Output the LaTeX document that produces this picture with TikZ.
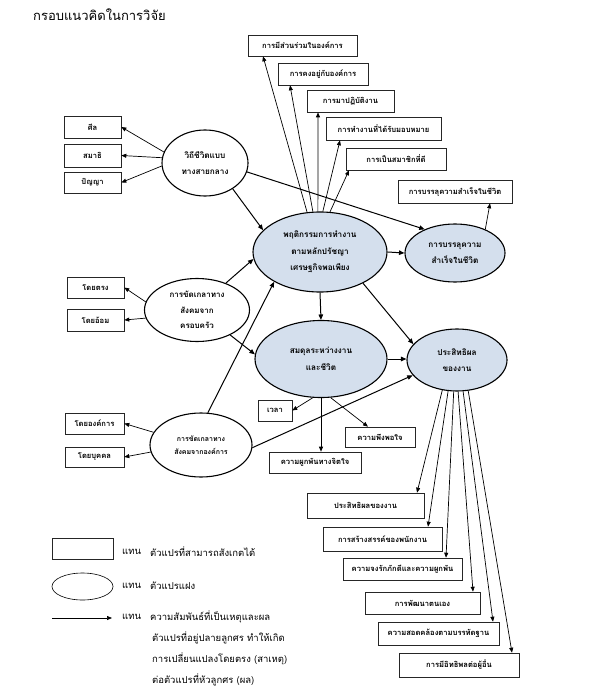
\documentclass[tikz,border=0pt]{standalone}
\usepackage{fontspec}
\newfontfamily\thai[Script=Thai]{Loma}
\usetikzlibrary{arrows.meta,shapes.geometric}
\definecolor{latfill}{RGB}{212,223,237}
\begin{document}
\begin{tikzpicture}[x=1pt,y=-1pt,
  box/.style={draw=black!85, line width=0.6pt, rectangle, inner sep=0pt, font=\thai\fontsize{7.6}{9}\selectfont\bfseries},
  lat/.style={draw=black, line width=1.1pt, ellipse, fill=latfill, inner sep=0pt, align=center, font=\thai\fontsize{8.2}{16.5}\selectfont\bfseries},
  obs/.style={lat, fill=white},
  arr/.style={-{Triangle[length=5pt,width=4pt]}, line width=0.7pt},
  arrb/.style={-{Triangle[length=5.5pt,width=4.5pt]}, line width=1pt},
  leg/.style={anchor=west, inner sep=0pt, font=\thai\fontsize{9.5}{11}\selectfont},
]
\useasboundingbox (0,0) rectangle (589,700);
\fill[white] (0,0) rectangle (589,700);

\node[anchor=west, inner sep=0pt, font=\thai\fontsize{13}{15}\selectfont] (title) at (33,15) {กรอบแนวคิดในการวิจัย};

% top boxes
\node[box, minimum width=109, minimum height=21] (t1) at (302.5,45.5) {การมีส่วนร่วมในองค์การ};
\node[box, minimum width=90, minimum height=22] (t2) at (323,74) {การคงอยู่กับองค์การ};
\node[box, minimum width=87, minimum height=22] (t3) at (350.5,101) {การมาปฏิบัติงาน};
\node[box, minimum width=115, minimum height=23] (t4) at (383.5,128.5) {การทำงานที่ได้รับมอบหมาย};
\node[box, minimum width=100, minimum height=22] (t5) at (396,159) {การเป็นสมาชิกที่ดี};

% left boxes
\node[box, minimum width=57, minimum height=22] (l1) at (92.5,127) {ศีล};
\node[box, minimum width=57, minimum height=23] (l2) at (92.5,155.5) {สมาธิ};
\node[box, minimum width=57, minimum height=21] (l3) at (92.5,182.5) {ปัญญา};

\node[box, minimum width=114, minimum height=23] (sb) at (455,191.5) {การบรรลุความสำเร็จในชีวิต};

\node[box, minimum width=57, minimum height=21] (f1) at (95.5,287.5) {โดยตรง};
\node[box, minimum width=57, minimum height=22] (f2) at (95.5,320) {โดยอ้อม};

\node[box, minimum width=59, minimum height=21] (o1) at (94.5,423.5) {โดยองค์การ};
\node[box, minimum width=59, minimum height=20] (o2) at (94.5,457) {โดยบุคคล};

\node[box, minimum width=34, minimum height=21] (b1) at (275,410.5) {เวลา};
\node[box, minimum width=70, minimum height=20] (b2) at (380,437) {ความพึงพอใจ};
\node[box, minimum width=92, minimum height=21] (b3) at (315,462.5) {ความผูกพันทางจิตใจ};

\node[box, minimum width=117, minimum height=25] (e1) at (365.5,505.5) {ประสิทธิผลของงาน};
\node[box, minimum width=119, minimum height=24] (e2) at (382.5,539) {การสร้างสรรค์ของพนักงาน};
\node[box, minimum width=119, minimum height=22] (e3) at (402.5,569) {ความจงรักภักดีและความผูกพัน};
\node[box, minimum width=115, minimum height=22] (e4) at (422.5,603) {การพัฒนาตนเอง};
\node[box, minimum width=121, minimum height=23] (e5) at (438.5,633.5) {ความสอดคล้องตามบรรทัดฐาน};
\node[box, minimum width=120, minimum height=24] (e6) at (459,665) {การมีอิทธิพลต่อผู้อื่น};

% ellipses
\node[obs, minimum width=86, minimum height=66] (L) at (205,163) {วิถีชีวิตแบบ\\ทางสายกลาง};
\node[lat, minimum width=134, minimum height=80] (M) at (320,252) {พฤติกรรมการทำงาน\\ตามหลักปรัชญา\\เศรษฐกิจพอเพียง};
\node[lat, minimum width=100, minimum height=58] (S) at (455,253) {การบรรลุความ\\สำเร็จในชีวิต};
\node[obs, minimum width=105, minimum height=63, font=\thai\fontsize{8}{15.5}\selectfont\bfseries] (F) at (197,310) {การขัดเกลาทาง\\สังคมจาก\\ครอบครัว};
\node[lat, minimum width=132, minimum height=77] (B) at (321,359) {สมดุลระหว่างงาน\\และชีวิต};
\node[lat, minimum width=100, minimum height=62] (E) at (457,360) {ประสิทธิผล\\ของงาน};
\node[obs, minimum width=102, minimum height=64, font=\thai\fontsize{7}{12.5}\selectfont\bfseries] (O) at (201,445) {การขัดเกลาทาง\\สังคมจากองค์การ};

% connectors: lifestyle
\draw[arr] (L.165) -- (l1.east);
\draw[arr] (L.173) -- (l2.east);
\draw[arr] (L.184) -- (l3.east);
\draw[arrb] (L.317) -- (M.159);
\draw[arrb] (L.348) -- (S.142);

% main fan
\draw[arr] (M.108) -- (263,0 |- t1.south);
\draw[arr] (M.100) -- (290,0 |- t2.south);
\draw[arr] (M.93) -- (318,0 |- t3.south);
\draw[arr] (M.86) -- (340,0 |- t4.south);
\draw[arr] (M.76) -- (349,0 |- t5.south);

\draw[arrb] (M.east) -- (S.west);
\draw[arr] (S.38) -- (490,0 |- sb.south);
\draw[arrb] (M.south) -- (B.north);
\draw[arrb] (M.324) -- (E.160);

% family
\draw[arr] (F.171) -- (f1.east);
\draw[arr] (F.189) -- (f2.east);
\draw[arrb] (F.43) -- (M.186);
\draw[arrb] (F.323) -- (B.176);

% organisation
\draw[arr] (O.165) -- (o1.east);
\draw[arr] (O.188) -- (o2.east);
\draw[arrb] (O.78) -- (M.213);
\draw[arrb] (O.357) -- (E.199);

% balance
\draw[arrb] (B.east) -- (E.west |- B.east);
\draw[arr] (B.258) -- (b1.east);
\draw[arr] (B.284) -- (368,0 |- b2.north);
\draw[arr] (B.south) -- (B.south |- b3.north);

% efficiency
\draw[arr] (E.244) -- (417,0 |- e1.north);
\draw[arr] (E.254) -- (428,0 |- e2.north);
\draw[arr] (E.264) -- (446,0 |- e3.north);
\draw[arr] (E.272) -- (473,0 |- e4.north);
\draw[arr] (E.281) -- (493,0 |- e5.north);
\draw[arr] (E.290) -- (512,0 |- e6.north);

% legend
\node[box, minimum width=61, minimum height=21] (lr) at (82.5,548.5) {};
\node[obs, line width=0.6pt, minimum width=61, minimum height=27] (le) at (82.5,586.5) {};
\coordinate (la1) at (52,618);
\coordinate (la2) at (112,618);
\draw[arr] (la1) -- (la2);
\node[leg] (g1a) at (122,552) {แทน};
\node[leg] (g1b) at (150,552) {ตัวแปรที่สามารถสังเกตได้};
\node[leg] (g2a) at (122,586) {แทน};
\node[leg] (g2b) at (150,586) {ตัวแปรแฝง};
\node[leg] (g3a) at (122,617) {แทน};
\node[leg] (g3b) at (150,617) {ความสัมพันธ์ที่เป็นเหตุและผล};
\node[leg] (g4) at (152,638) {ตัวแปรที่อยู่ปลายลูกศร ทำให้เกิด};
\node[leg] (g5) at (152,659) {การเปลี่ยนแปลงโดยตรง (สาเหตุ)};
\node[leg] (g6) at (152,680) {ต่อตัวแปรที่หัวลูกศร (ผล)};
\end{tikzpicture}
\end{document}
